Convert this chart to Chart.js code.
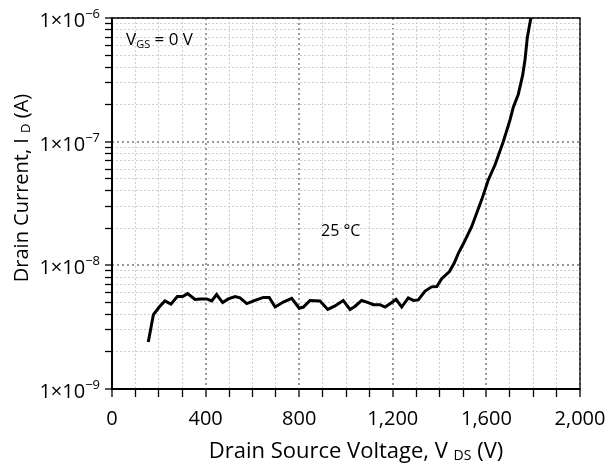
<!DOCTYPE html>
<html>
<head>
<meta charset="utf-8">
<script src="https://cdn.jsdelivr.net/npm/chart.js@4.4.1/dist/chart.umd.min.js"></script>
<style>
  html, body { margin: 0; padding: 0; background: #fff; }
</style>
</head>
<body>
<canvas id="idChart" width="609" height="465"></canvas>
<script>
// Dữ liệu: điện áp (V) và dòng rò (A)
const voltage = [155, 177, 202, 226, 252, 279, 302, 323, 355, 379, 405, 426, 447, 473, 497, 526, 547, 576,
  611, 647, 672, 697, 732, 768, 800, 818, 846, 889, 922, 953, 988, 1017, 1038, 1067, 1095, 1117, 1145,
  1167, 1188, 1214, 1238, 1266, 1288, 1309, 1338, 1366, 1388, 1409, 1442, 1462, 1480, 1502, 1537, 1580,
  1608, 1637, 1672, 1701, 1715, 1736, 1755, 1765, 1775, 1790];
const current = [2.4e-9, 4.0e-9, 4.6e-9, 5.15e-9, 4.85e-9, 5.6e-9, 5.6e-9, 5.9e-9, 5.3e-9, 5.35e-9, 5.35e-9,
  5.15e-9, 5.8e-9, 5.0e-9, 5.35e-9, 5.6e-9, 5.45e-9, 4.9e-9, 5.2e-9, 5.5e-9, 5.5e-9, 4.6e-9, 5.05e-9,
  5.4e-9, 4.5e-9, 4.6e-9, 5.2e-9, 5.15e-9, 4.4e-9, 4.7e-9, 5.2e-9, 4.4e-9, 4.65e-9, 5.2e-9, 5.0e-9,
  4.8e-9, 4.8e-9, 4.6e-9, 4.9e-9, 5.3e-9, 4.6e-9, 5.45e-9, 5.2e-9, 5.25e-9, 6.2e-9, 6.7e-9, 6.75e-9,
  7.8e-9, 8.9e-9, 1.04e-8, 1.25e-8, 1.5e-8, 2.05e-8, 3.4e-8, 4.9e-8, 6.5e-8, 1.0e-7, 1.5e-7, 1.9e-7,
  2.4e-7, 3.45e-7, 4.6e-7, 7.0e-7, 1.0e-6];

// Nhãn trục
const xLabelValues = [0, 400, 800, 1200, 1600, 2000];
const yDecades = [1e-9, 1e-8, 1e-7, 1e-6];
const yDecadeExp = ['\u22129', '\u22128', '\u22127', '\u22126'];
const yMinorSteps = [2, 3, 4, 5, 6, 7, 8, 9];

const FONT = '"Open Sans", sans-serif';

// các vạch phụ của trục log
const yTickValues = [];
yDecades.forEach((d, i) => {
    yTickValues.push(d);
    if (i < yDecades.length - 1) yMinorSteps.forEach(m => yTickValues.push(m * d));
});

function isMajorY(v) {
    return yDecades.some(d => Math.abs(v / d - 1) < 1e-6);
}

// vẽ chữ có chỉ số dưới / trên
function richText(ctx, parts, x, y, align) {
    let w = 0;
    parts.forEach(p => {
        ctx.font = p.size + 'px ' + FONT;
        p.w = ctx.measureText(p.t).width;
        w += p.w;
    });
    let cx = align === 'right' ? x - w : (align === 'center' ? x - w / 2 : x);
    ctx.textAlign = 'left';
    ctx.textBaseline = 'alphabetic';
    parts.forEach(p => {
        ctx.font = p.size + 'px ' + FONT;
        ctx.fillText(p.t, cx, y + (p.dy || 0));
        cx += p.w;
    });
}

const annotatePlugin = {
    id: 'annotate',
    afterDraw(chart) {
        const { ctx, chartArea: a, scales } = chart;
        ctx.save();
        // khung
        ctx.strokeStyle = '#000';
        ctx.lineWidth = 1.3;
        ctx.beginPath();
        ctx.moveTo(a.left, a.top);
        ctx.lineTo(a.right, a.top);
        ctx.lineTo(a.right, a.bottom);
        ctx.stroke();
        ctx.lineWidth = 2;
        ctx.beginPath();
        ctx.moveTo(a.left, a.top - 0.5);
        ctx.lineTo(a.left, a.bottom);
        ctx.lineTo(a.right + 0.5, a.bottom);
        ctx.stroke();

        ctx.fillStyle = '#000';
        // nhãn trục y
        yDecades.forEach((d, i) => {
            const py = scales.y.getPixelForValue(d);
            richText(ctx, [
                { t: '1\u00d710', size: 20 },
                { t: yDecadeExp[i], size: 13, dy: -9 }
            ], 100, py + 9, 'right');
        });

        // tiêu đề trục x
        richText(ctx, [
            { t: 'Drain Source Voltage, V ', size: 22 },
            { t: 'DS', size: 14, dy: 2 },
            { t: ' (V)', size: 22 }
        ], 356, 458, 'center');

        // tiêu đề trục y
        ctx.save();
        ctx.translate(28, 188);
        ctx.rotate(-Math.PI / 2);
        richText(ctx, [
            { t: 'Drain Current, I ', size: 20 },
            { t: 'D', size: 13, dy: 2 },
            { t: ' (A)', size: 20 }
        ], 0, 0, 'center');
        ctx.restore();

        // chú thích
        richText(ctx, [
            { t: 'V', size: 17 },
            { t: 'GS', size: 11, dy: 3 },
            { t: ' = 0 V', size: 17 }
        ], 126, 45, 'left');
        richText(ctx, [{ t: '25 \u00b0C', size: 16 }], 321, 236, 'left');
        ctx.restore();
    }
};

const ctx = document.getElementById('idChart').getContext('2d');
window.chart = new Chart(ctx, {
    type: 'line',
    data: {
        datasets: [{
            data: voltage.map((v, i) => ({ x: v, y: current[i] })),
            borderColor: '#000',
            borderWidth: 3,
            pointRadius: 0,
            fill: false,
            tension: 0
        }]
    },
    options: {
        responsive: false,
        animation: false,
        layout: { padding: { left: 0, right: 29, top: 18, bottom: 0 } },
        plugins: { legend: { display: false }, tooltip: { enabled: false } },
        scales: {
            x: {
                type: 'linear',
                min: 0,
                max: 2000,
                afterFit: (s) => { s.height = 76; s.paddingLeft = 0; s.paddingRight = 0; },
                ticks: {
                    stepSize: 100,
                    autoSkip: false,
                    maxRotation: 0,
                    padding: 10,
                    color: '#000',
                    font: { family: FONT, size: 20 },
                    callback: (v) => xLabelValues.includes(v) ? v.toLocaleString('en-US') : ''
                },
                grid: {
                    color: (c) => (c.tick && c.tick.value % 400 === 0) ? '#9a9a9a' : '#cfcfcf',
                    lineWidth: (c) => (c.tick && c.tick.value % 400 === 0) ? 2 : 1,
                    tickColor: '#000',
                    tickLength: 8,
                    tickWidth: 1.3,
                    tickBorderDash: []
                },
                border: {
                    display: false,
                    dash: (c) => (c.tick && c.tick.value % 400 === 0) ? [2, 3] : [2, 2]
                }
            },
            y: {
                type: 'logarithmic',
                min: 1e-9,
                max: 1e-6,
                afterFit: (s) => { s.width = 112; s.paddingTop = 0; s.paddingBottom = 0; },
                afterBuildTicks: (s) => { s.ticks = yTickValues.map(v => ({ value: v })); },
                ticks: {
                    autoSkip: false,
                    callback: () => ''
                },
                grid: {
                    color: (c) => (c.tick && isMajorY(c.tick.value)) ? '#9a9a9a' : '#cfcfcf',
                    lineWidth: (c) => (c.tick && isMajorY(c.tick.value)) ? 2 : 1,
                    tickColor: '#000',
                    tickLength: 7,
                    tickWidth: 1.3,
                    tickBorderDash: []
                },
                border: {
                    display: false,
                    dash: (c) => (c.tick && isMajorY(c.tick.value)) ? [2, 3] : [2, 2]
                }
            }
        }
    },
    plugins: [annotatePlugin]
});
</script>
</body>
</html>
